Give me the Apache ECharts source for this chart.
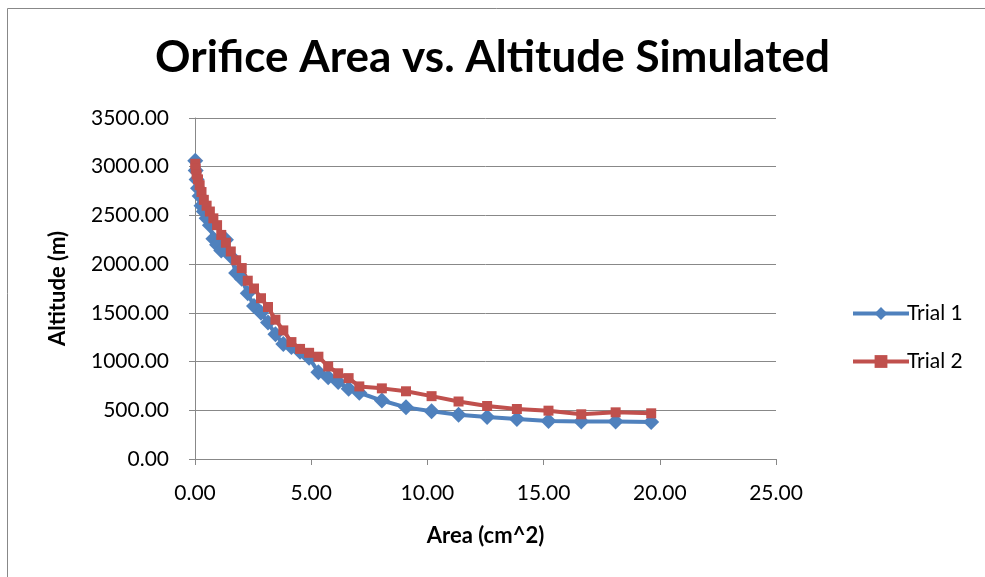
<!DOCTYPE html>
<html>
<head>
<meta charset="utf-8">
<script src="https://cdn.jsdelivr.net/npm/echarts@6/dist/echarts.min.js"></script>
<style>
html, body { margin: 0; padding: 0; background: #fff; }
#main { width: 985px; height: 577px; }
</style>
</head>
<body>
<div id="main"></div>
<script>
// area values (cm^2), shared by both trials
var areas = [0.01, 0.03, 0.07, 0.13, 0.20, 0.28, 0.38, 0.50, 0.64, 0.79,
	0.95, 1.13, 1.33, 1.54, 1.77, 2.01, 2.27, 2.54, 2.84, 3.14,
	3.46, 3.80, 4.15, 4.52, 4.91, 5.31, 5.73, 6.16, 6.61, 7.07,
	8.04, 9.08, 10.18, 11.34, 12.57, 13.85, 15.21, 16.62, 18.10, 19.63];
// altitude (m)
var trial1 = [3060, 2960, 2870, 2780, 2700, 2600, 2540, 2470, 2400, 2260,
	2200, 2140, 2250, 2080, 1910, 1850, 1700, 1570, 1500, 1400,
	1280, 1180, 1150, 1100, 1040, 890, 840, 790, 720, 680,
	600, 530, 490, 455, 430, 410, 390, 385, 385, 380];
var trial2 = [3030, 2980, 2920, 2870, 2810, 2740, 2660, 2600, 2540, 2470,
	2400, 2300, 2220, 2130, 2040, 1960, 1830, 1750, 1650, 1560,
	1430, 1320, 1200, 1130, 1090, 1050, 950, 880, 830, 745,
	725, 695, 645, 590, 544, 513, 496, 459, 479, 469];
var seriesNames = ['Trial 1', 'Trial 2'];

function pairs(xs, ys) {
	var out = [];
	for (var i = 0; i < xs.length; i++) out.push([xs[i], ys[i]]);
	return out;
}

var font = 'Lato, "Open Sans", sans-serif';
var myChart = echarts.init(document.getElementById('main'));
var option = {
	animation: false,
	backgroundColor: '#fff',
	title: {
		text: 'Orifice Area vs. Altitude Simulated',
		left: 'center', top: 36, padding: [0, 0, 0, 42],
		textStyle: { fontFamily: font, fontSize: 44, fontWeight: 'bold', color: '#000' }
	},
	graphic: [{
		type: 'rect', left: 5, top: 6,
		shape: { width: 1100, height: 700 },
		style: { fill: 'none', stroke: '#888', lineWidth: 1 }
	}],
	legend: {
		orient: 'vertical', left: 846, top: 298,
		itemWidth: 56, itemHeight: 16, itemGap: 27,
		data: seriesNames,
		lineStyle: { width: 4 },
		textStyle: { fontFamily: font, fontSize: 21, color: '#000', padding: [0, 0, 0, -7] }
	},
	grid: { left: 195, right: 209, top: 118, bottom: 118 },
	xAxis: {
		type: 'value', min: 0, max: 25, interval: 5,
		name: 'Area (cm^2)', nameLocation: 'middle', nameGap: 66,
		nameTextStyle: { fontFamily: font, fontSize: 22, fontWeight: 'bold', color: '#000' },
		axisLine: { lineStyle: { color: '#888' } },
		axisTick: { show: true, length: 6, lineStyle: { color: '#888' } },
		axisLabel: { fontFamily: font, fontSize: 21, color: '#000', margin: 24,
			formatter: function (v) { return v.toFixed(2); } },
		splitLine: { show: false }
	},
	yAxis: {
		type: 'value', min: 0, max: 3500, interval: 500,
		name: 'Altitude (m)', nameLocation: 'middle', nameGap: 126, nameRotate: 90,
		nameTextStyle: { fontFamily: font, fontSize: 22, fontWeight: 'bold', color: '#000' },
		axisLine: { show: true, lineStyle: { color: '#888' } },
		axisTick: { show: true, length: 6, lineStyle: { color: '#888' } },
		axisLabel: { fontFamily: font, fontSize: 21, color: '#000', margin: 26,
			formatter: function (v) { return v.toFixed(2); } },
		splitLine: { lineStyle: { color: '#888', width: 1 } }
	},
	series: [{
		name: seriesNames[0], type: 'line',
		data: pairs(areas, trial1),
		symbol: 'diamond', symbolSize: 16,
		itemStyle: { color: '#4F81BD' },
		lineStyle: { color: '#4F81BD', width: 4 }
	}, {
		name: seriesNames[1], type: 'line',
		data: pairs(areas, trial2),
		symbol: 'rect', symbolSize: 10,
		itemStyle: { color: '#C0504D' },
		lineStyle: { color: '#C0504D', width: 4 }
	}]
};
myChart.setOption(option);
</script>
</body>
</html>
